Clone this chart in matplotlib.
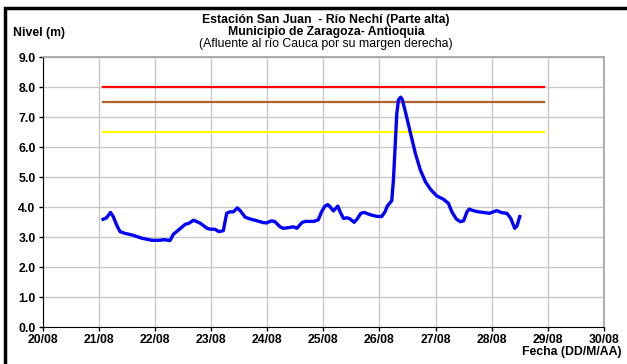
import matplotlib
matplotlib.use("Agg")
from matplotlib import rcParams
rcParams['font.family'] = ['Liberation Sans', 'DejaVu Sans']
import matplotlib.pyplot as plt
from matplotlib.patches import Rectangle

# dia de agosto (fraccion) y nivel (m)
dia = [21.08, 21.14, 21.21, 21.26, 21.32, 21.38, 21.47, 21.59, 21.77, 21.95,
       22.06, 22.18, 22.27, 22.33, 22.42, 22.54, 22.61, 22.69, 22.81, 22.93,
       22.99, 23.07, 23.14, 23.22, 23.28, 23.34, 23.40, 23.47, 23.52, 23.61,
       23.70, 23.82, 23.93, 23.99, 24.08, 24.14, 24.23, 24.29, 24.38, 24.47,
       24.53, 24.62, 24.68, 24.83, 24.91, 24.97, 25.03, 25.08, 25.12, 25.18,
       25.26, 25.30, 25.36, 25.43, 25.48, 25.55, 25.60, 25.67, 25.73, 25.84,
       25.95, 26.04, 26.10, 26.14, 26.22, 26.25, 26.28, 26.31, 26.34, 26.38,
       26.41, 26.47, 26.55, 26.64, 26.73, 26.82, 26.91, 27.02, 27.14, 27.23,
       27.29, 27.37, 27.44, 27.50, 27.56, 27.60, 27.67, 27.76, 27.85, 27.96,
       28.09, 28.18, 28.27, 28.34, 28.41, 28.45, 28.50]
nivel = [3.60, 3.65, 3.83, 3.69, 3.41, 3.19, 3.13, 3.08, 2.97, 2.90,
         2.90, 2.92, 2.89, 3.10, 3.24, 3.43, 3.47, 3.57, 3.47, 3.30,
         3.27, 3.27, 3.19, 3.22, 3.80, 3.85, 3.85, 3.98, 3.89, 3.67,
         3.61, 3.55, 3.49, 3.48, 3.55, 3.52, 3.35, 3.30, 3.32, 3.35,
         3.30, 3.49, 3.53, 3.53, 3.58, 3.85, 4.04, 4.09, 4.02, 3.88,
         4.04, 3.85, 3.63, 3.65, 3.61, 3.50, 3.60, 3.80, 3.83, 3.75,
         3.70, 3.69, 3.85, 4.04, 4.22, 4.91, 6.02, 7.13, 7.58, 7.67,
         7.58, 7.13, 6.50, 5.80, 5.24, 4.85, 4.60, 4.38, 4.27, 4.13,
         3.85, 3.61, 3.52, 3.55, 3.85, 3.94, 3.89, 3.85, 3.83, 3.80,
         3.89, 3.82, 3.80, 3.63, 3.30, 3.38, 3.69]

# niveles de alerta
alertas = [8.0, 7.5, 6.5]
colores_alerta = ['#ff0000', '#b0602a', '#ffff00']
alerta_ini, alerta_fin = 21.08, 28.93

dias_ticks = list(range(20, 31))
etiquetas = ['%02d/08' % d for d in dias_ticks]
y_ticks = [0.0, 1.0, 2.0, 3.0, 4.0, 5.0, 6.0, 7.0, 8.0, 9.0]

fs = 8.8

fig = plt.figure(figsize=(6.27, 3.64), dpi=100)
ax = fig.add_axes([0.0678, 0.1008, 0.8955, 0.7418])

for v, c in zip(alertas, colores_alerta):
    ax.plot([alerta_ini, alerta_fin], [v, v], color=c, lw=1.6, zorder=3)

ax.plot(dia, nivel, color='#0000ff', lw=2.4, zorder=4, solid_joinstyle='round')

ax.set_xlim(20, 30)
ax.set_ylim(0, 9)
ax.set_xticks(dias_ticks)
ax.set_xticklabels(etiquetas, fontsize=fs, fontweight='bold')
ax.set_yticks(y_ticks)
ax.set_yticklabels(['%.1f' % v for v in y_ticks], fontsize=fs, fontweight='bold')
ax.grid(True, color='#c8c8c8', lw=1.0)
ax.set_axisbelow(True)
ax.tick_params(axis='both', direction='out', length=3, width=1, pad=2)
ax.spines['left'].set_color('black')
ax.spines['bottom'].set_color('black')
ax.spines['top'].set_color('#a0a0a0')
ax.spines['right'].set_color('#a0a0a0')
ax.spines['right'].set_linewidth(1.2)
ax.spines['top'].set_linewidth(1.2)

fig.text(326/627, 1 - 20/364, u'Estación San Juan  - Río Nechí (Parte alta)',
         ha='center', va='center', fontsize=fs, fontweight='bold')
fig.text(326/627, 1 - 32/364, 'Municipio de Zaragoza- Antioquia',
         ha='center', va='center', fontsize=fs, fontweight='bold')
fig.text(326/627, 1 - 44/364, u'(Afluente al río Cauca por su margen derecha)',
         ha='center', va='center', fontsize=fs)
fig.text(13/627, 1 - 33/364, 'Nivel (m)', ha='left', va='center',
         fontsize=fs, fontweight='bold')
fig.text(622/627, 1 - 352/364, 'Fecha (DD/M/AA)', ha='right', va='center',
         fontsize=fs, fontweight='bold')

# marco exterior
fig.patches.append(Rectangle((5/627, -0.05), 1.2, 1 - 8/364 + 0.05,
                             transform=fig.transFigure, fill=False,
                             edgecolor='black', lw=2.5))

fig.savefig('out.png', dpi=100)
